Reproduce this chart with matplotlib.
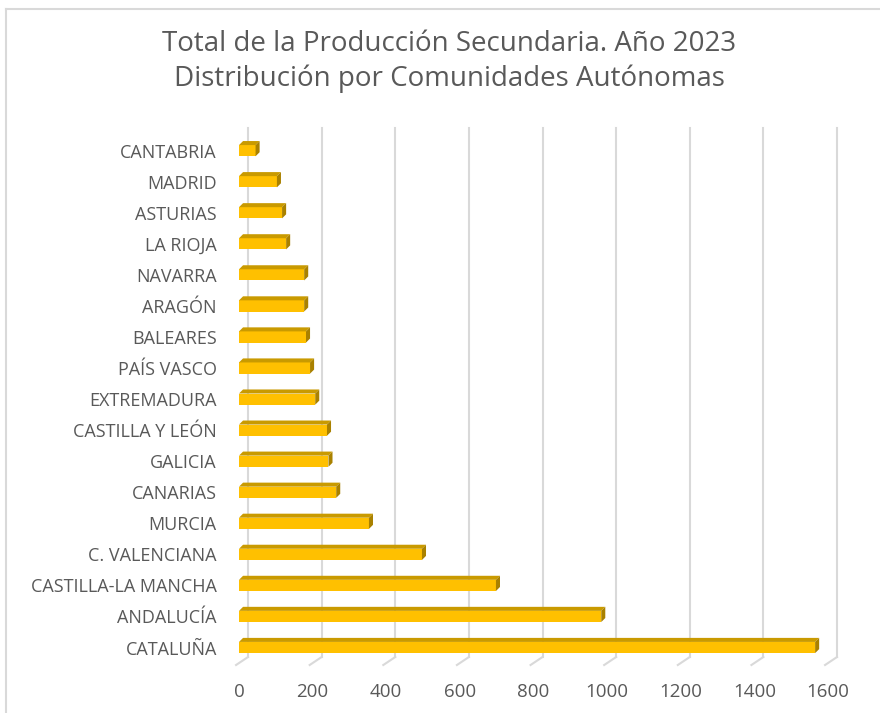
import matplotlib
matplotlib.use('Agg')
import matplotlib.pyplot as plt
from matplotlib.patches import Polygon, Rectangle
from matplotlib.lines import Line2D

# Data, bottom to top
regions = ['CATALUÑA', 'ANDALUCÍA', 'CASTILLA-LA MANCHA', 'C. VALENCIANA', 'MURCIA',
           'CANARIAS', 'GALICIA', 'CASTILLA Y LEÓN', 'EXTREMADURA', 'PAÍS VASCO',
           'BALEARES', 'ARAGÓN', 'NAVARRA', 'LA RIOJA', 'ASTURIAS', 'MADRID', 'CANTABRIA']
values = [1565, 984, 698, 497, 353, 264, 243, 239, 207, 193, 182, 177, 177, 128, 117, 103, 45]
ticks = [0, 200, 400, 600, 800, 1000, 1200, 1400, 1600]

front = '#FFC000'
top_c = '#C99A00'
side_c = '#A98100'
grid_c = '#D9D9D9'
text_c = '#595959'
font = 'Open Sans'

fig = plt.figure(figsize=(8.8, 7.13), dpi=100)
W, H = 880, 713

# chart border (left and top)
fig.add_artist(Line2D([6 / W, 6 / W], [0, 1 - 9 / H], color=grid_c, lw=1.5))
fig.add_artist(Line2D([6 / W, 1], [1 - 9 / H, 1 - 9 / H], color=grid_c, lw=1.5))

fig.text(449 / W, 1 - 44 / H, 'Total de la Producción Secundaria. Año 2023',
         ha='center', va='center', fontsize=20, color=text_c, family=font)
fig.text(449 / W, 1 - 79 / H, 'Distribución por Comunidades Autónomas',
         ha='center', va='center', fontsize=20, color=text_c, family=font)

ax = fig.add_axes([239 / W, (H - 665) / H, 601 / W, 537 / H])
ax.set_xlim(0, 1632.6)
ax.set_ylim(-0.563, 16.73)
for s in ax.spines.values():
    s.set_visible(False)

dx_back = 24.5      # back wall offset (data units)
d = 11              # bar depth, x
dy = 0.13           # bar depth, y
h = 0.36            # front face height

# back wall gridlines and floor ticks
for t in ticks:
    ax.plot([t + dx_back, t + dx_back], [-0.306, 16.73], color=grid_c, lw=1.5,
            zorder=1, clip_on=False)
    ax.plot([t - 8, t + dx_back], [-0.563, -0.306], color=grid_c, lw=1.5,
            zorder=1, clip_on=False)

for i, v in enumerate(values):
    y0 = i - h / 2
    y1 = i + h / 2
    ax.add_patch(Rectangle((0, y0), v, h, facecolor=front, edgecolor='none', zorder=3))
    ax.add_patch(Polygon([(0, y1), (v, y1), (v + d, y1 + dy), (d, y1 + dy)],
                         closed=True, facecolor=top_c, edgecolor='none', zorder=3))
    ax.add_patch(Polygon([(v, y0), (v, y1), (v + d, y1 + dy), (v + d, y0 + dy)],
                         closed=True, facecolor=side_c, edgecolor='none', zorder=3))

ax.set_yticks(range(len(regions)))
ax.set_yticklabels(regions, family=font, fontsize=13, color=text_c)
ax.set_xticks(ticks)
ax.set_xticklabels([str(t) for t in ticks], family=font, fontsize=13.5, color=text_c)
ax.tick_params(axis='both', length=0)
ax.tick_params(axis='y', pad=16)
ax.tick_params(axis='x', pad=13)

fig.savefig('out.png', dpi=100)
